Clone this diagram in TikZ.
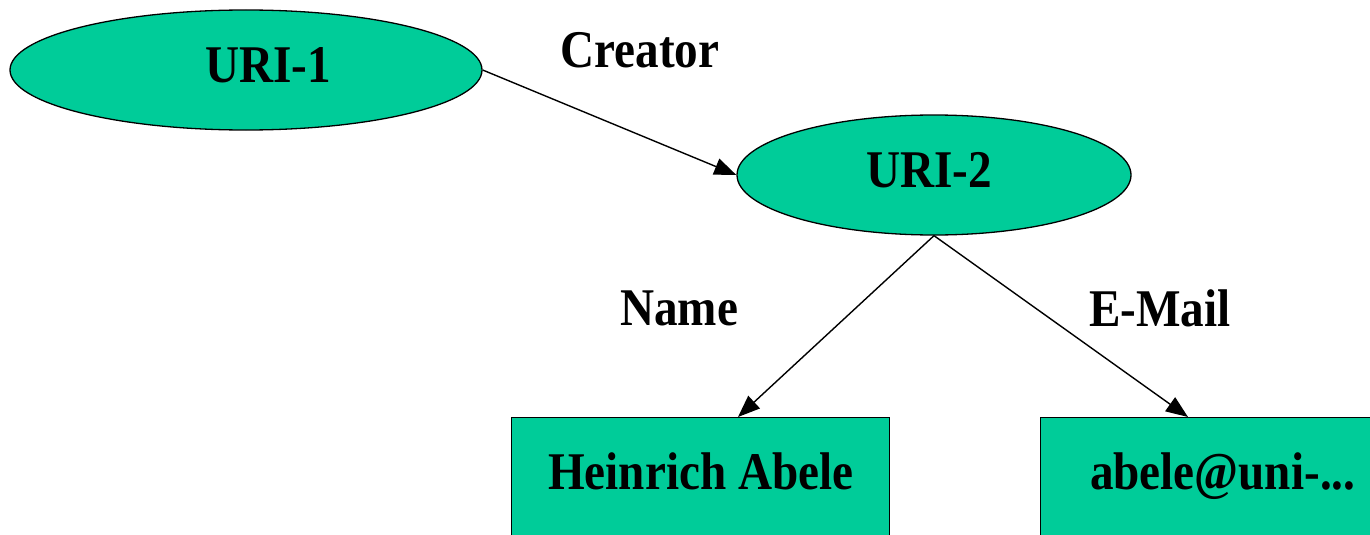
\documentclass[tikz,border=0pt]{standalone}
\usepackage{fontspec}
\setmainfont{Liberation Serif}[FakeStretch=0.89]
\usetikzlibrary{shapes.geometric,arrows.meta,calc}
\definecolor{nodegreen}{HTML}{00CC99}
\tikzset{
  lbl/.style={font=\fontsize{53}{60}\selectfont\bfseries, inner sep=0pt},
  res/.style={ellipse, draw=black, line width=1.3pt, fill=nodegreen,
    minimum width=#1, minimum height=120pt, inner sep=0pt,
    text depth=10pt,
    font=\fontsize{53}{60}\selectfont\bfseries},
  lit/.style={rectangle, draw=black, line width=1.4pt, fill=nodegreen,
    minimum width=#1, inner xsep=0pt, inner ysep=0pt,
    text height=72pt, text depth=71pt, anchor=north west,
    font=\fontsize{53}{60}\selectfont\bfseries},
  rel/.style={draw=black, line width=1.4pt,
    -{Triangle[length=22pt,width=17pt]}}
}
\begin{document}
\begin{tikzpicture}[x=1pt,y=-1pt]
  \path[use as bounding box, clip] (0,0) rectangle (1370,535);

  % resources
  \node[res=472pt] (u1) at (246,70) {\hspace*{44pt}URI-1};
  \node[res=394pt] (u2) at (934,175) {URI-2\hspace*{10pt}};

  % literal values
  \node[lit=378pt] (name) at (511,417) {Heinrich Abele};
  \node[lit=364pt] (mail) at (1040,417) {abele@uni-...};

  % arrow end points on the top edges of the literal boxes
  \coordinate (nameIn) at ([xshift=227pt]name.north west);
  \coordinate (mailIn) at ([xshift=148pt]mail.north west);

  % properties
  \draw[rel] (u1.east) -- (u2.west);
  \draw[rel] (u2.south) -- (nameIn);
  \draw[rel] (u2.south) -- (mailIn);

  % property labels
  \node[lbl] (creator) at (640,50) {Creator};
  \node[lbl] (nameLbl) at (679,308) {Name};
  \node[lbl] (mailLbl) at (1160,308) {E-Mail};
\end{tikzpicture}
\end{document}
